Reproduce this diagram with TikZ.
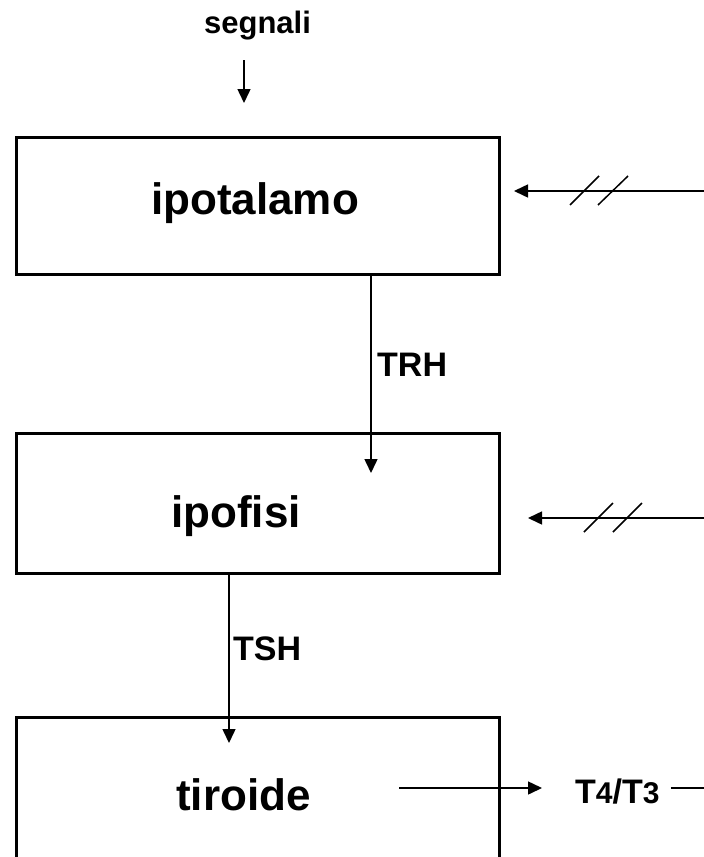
\documentclass[tikz,border=0pt]{standalone}
\usepackage{fontspec}
\setmainfont{Liberation Sans}
\usetikzlibrary{arrows.meta}
\tikzset{
  box/.style={draw, line width=3pt, rectangle, minimum width=483pt, inner sep=0pt, outer sep=0pt},
  big/.style={inner sep=0pt, anchor=base, font=\fontsize{44}{48}\selectfont\bfseries},
  mid/.style={inner sep=0pt, anchor=base west, font=\fontsize{34}{38}\selectfont\bfseries},
  sig/.style={inner sep=0pt, anchor=base, font=\fontsize{31}{34}\selectfont\bfseries},
  conn/.style={line width=1.5pt},
  arr/.style={conn, -{Triangle[length=14pt,width=13pt]}},
  slash/.style={line width=1.5pt}
}
\begin{document}
\begin{tikzpicture}[x=1pt,y=-1pt]
\useasboundingbox (0,0) rectangle (704,857);
\clip (0,0) rectangle (704,857);
% boxes
\node[box, minimum height=137pt] (hyp) at (257.5,205.5) {};
\node[box, minimum height=140pt] (pit) at (257.5,503) {};
\node[box, minimum height=183pt] (thy) at (257.5,808.5) {};
% box texts
\node[big] (hypt) at (255,214) {ipotalamo};
\node[big] (pitt) at (236,527) {ipofisi};
\node[big] (thyt) at (243.5,810) {tiroide};
% signals
\node[sig] (seg) at (257.5,33) {segnali};
\coordinate (s0) at (244,60);
\coordinate (s1) at (244,103);
\draw[arr] (s0) -- (s1);
% TRH
\coordinate (trh1) at (371,473);
\draw[arr] (hyp.south -| trh1) -- (trh1);
\node[mid] (trh) at (377,376) {TRH};
% TSH
\coordinate (tsh1) at (229,743);
\draw[arr] (pit.south -| tsh1) -- (tsh1);
\node[mid] (tsh) at (233,660) {TSH};
% feedback to hypothalamus
\coordinate (fa0) at (704,191);
\coordinate (fa1) at (514,191);
\draw[arr] (fa0) -- (fa1);
\draw[slash] (570,205) -- (599,176);
\draw[slash] (598,205) -- (628,176);
% feedback to pituitary
\coordinate (fb0) at (704,518);
\coordinate (fb1) at (528,518);
\draw[arr] (fb0) -- (fb1);
\draw[slash] (584,532) -- (613,503);
\draw[slash] (613,532) -- (642,503);
% output T4/T3
\coordinate (t0) at (399,788);
\coordinate (t1) at (542,788);
\draw[arr] (t0) -- (t1);
\node[inner sep=0pt, anchor=base west, font=\bfseries] (t43) at (575,803)
  {\fontsize{34}{38}\selectfont T\fontsize{30}{34}\selectfont 4\fontsize{34}{38}\selectfont /T\fontsize{30}{34}\selectfont 3};
\coordinate (tend) at (704,788);
\draw[conn] (t43.east |- tend) ++(11,0) -- (tend);
\end{tikzpicture}
\end{document}
